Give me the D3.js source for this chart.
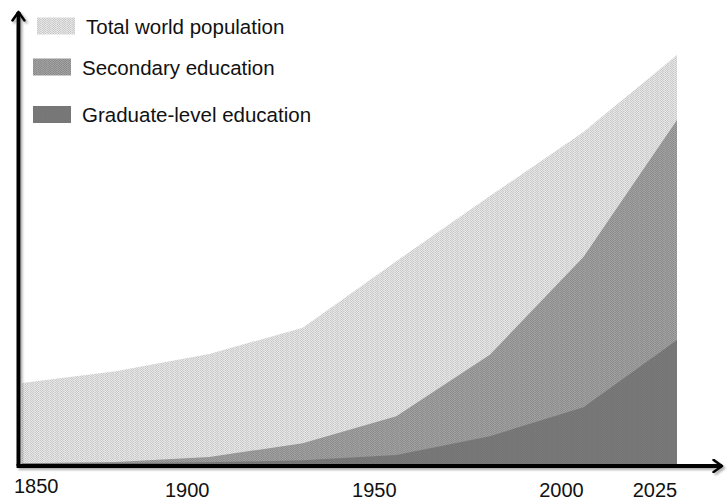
<!DOCTYPE html>
<html>
<head>
<meta charset="utf-8">
<script src="https://cdn.jsdelivr.net/npm/d3@7/dist/d3.min.js"></script>
<style>
  html, body { margin: 0; padding: 0; background: #fff; }
  svg { display: block; font-family: "Liberation Sans", Arial, sans-serif; }
</style>
</head>
<body>
<svg id="chart" width="727" height="504"></svg>
<script>
// ---- data (relative units, 2025 total = 100) ----
const years = [1850, 1875, 1900, 1925, 1950, 1975, 2000, 2025];
const totalPopulation = [19.8, 22.7, 26.9, 33.3, 49.6, 65.5, 81.2, 100];
const secondaryEducation = [0.2, 0.5, 1.7, 5.1, 11.7, 26.7, 50.6, 84.1];
const graduateEducation = [0.1, 0.2, 0.4, 0.9, 2.2, 6.8, 13.9, 30.3];
const tickYears = [1850, 1900, 1950, 2000, 2025];
const seriesNames = ["Total world population", "Secondary education", "Graduate-level education"];

const svg = d3.select("#chart");
const x = d3.scaleLinear().domain([1850, 2025]).range([22, 677]);
const y = d3.scaleLinear().domain([0, 100]).range([464, 55]);

// ---- patterns ----
const defs = svg.append("defs");
function makePattern(id, base, dot, stripe) {
  const p = defs.append("pattern").attr("id", id)
    .attr("patternUnits", "userSpaceOnUse").attr("width", 5).attr("height", 2);
  p.append("rect").attr("width", 5).attr("height", 2).attr("fill", base);
  [[0,0],[1,1],[2,0],[3,1]].forEach(([px,py]) =>
    p.append("rect").attr("x", px).attr("y", py).attr("width", 1).attr("height", 1).attr("fill", dot));
  p.append("rect").attr("x", 4).attr("y", 0).attr("width", 1).attr("height", 2).attr("fill", stripe);
}
makePattern("patTotal", "#e6e6e6", "#c9c9c9", "#dedede");
makePattern("patSecondary", "#a2a2a2", "#8a8a8a", "#9a9a9a");
makePattern("patGraduate", "#7a7a7a", "#737373", "#787878");
const fills = ["url(#patTotal)", "url(#patSecondary)", "url(#patGraduate)"];

const filter = defs.append("filter").attr("id", "shadow")
  .attr("x", "-5%").attr("y", "-5%").attr("width", "110%").attr("height", "110%");
filter.append("feDropShadow").attr("dx", 2).attr("dy", 2).attr("stdDeviation", 1)
  .attr("flood-color", "#777").attr("flood-opacity", 0.6);

// ---- areas ----
const seriesData = [totalPopulation, secondaryEducation, graduateEducation];
const area = d3.area()
  .x((d, i) => x(years[i]))
  .y0(y(0))
  .y1(d => y(d));
svg.append("g").selectAll("path")
  .data(seriesData)
  .join("path")
  .attr("d", d => area(d))
  .attr("fill", (d, i) => fills[i]);

// ---- axes (arrows) ----
defs.append("marker").attr("id", "arrow")
  .attr("viewBox", "0 0 10 12").attr("refX", 8).attr("refY", 6)
  .attr("markerWidth", 3).attr("markerHeight", 3.6).attr("orient", "auto")
  .attr("markerUnits", "strokeWidth")
  .append("path").attr("d", "M1,1 L8,6 L1,11")
  .attr("fill", "none").attr("stroke", "#000").attr("stroke-width", 2.2)
  .attr("stroke-linecap", "round").attr("stroke-linejoin", "round");

const axisX0 = x(1850) - 3.5;
const axisY0 = y(0) + 2;
const axes = svg.append("g").attr("filter", "url(#shadow)");
axes.append("line")
  .attr("x1", axisX0).attr("y1", axisY0).attr("x2", axisX0).attr("y2", 12)
  .attr("stroke", "#000").attr("stroke-width", 4).attr("marker-end", "url(#arrow)");
axes.append("line")
  .attr("x1", axisX0 - 2).attr("y1", axisY0).attr("x2", 722).attr("y2", axisY0)
  .attr("stroke", "#000").attr("stroke-width", 4).attr("marker-end", "url(#arrow)");

// ---- year labels ----
svg.append("g").selectAll("text")
  .data(tickYears)
  .join("text")
  .attr("x", (d, i) => i === 0 ? x(d) - 8 : x(d) - 22)
  .attr("y", (d, i) => i === 0 ? axisY0 + 27 : axisY0 + 31)
  .attr("text-anchor", (d, i) => i === 0 ? "start" : "middle")
  .attr("font-size", 20)
  .attr("fill", "#111")
  .text(d => d);

// ---- legend ----
const legendY = [26, 67, 114.5];
const lg = svg.append("g").selectAll("g")
  .data(seriesNames)
  .join("g")
  .attr("transform", (d, i) => `translate(${i === 0 ? 37 : 33},${legendY[i]})`);
lg.append("rect")
  .attr("x", 0).attr("y", -8.5).attr("width", 38).attr("height", 17)
  .attr("fill", (d, i) => fills[i]);
lg.append("text")
  .attr("x", (d, i) => i === 0 ? 49 : 49)
  .attr("y", 7.5)
  .attr("font-size", 20.5)
  .attr("fill", "#111")
  .text(d => d);
</script>
</body>
</html>
